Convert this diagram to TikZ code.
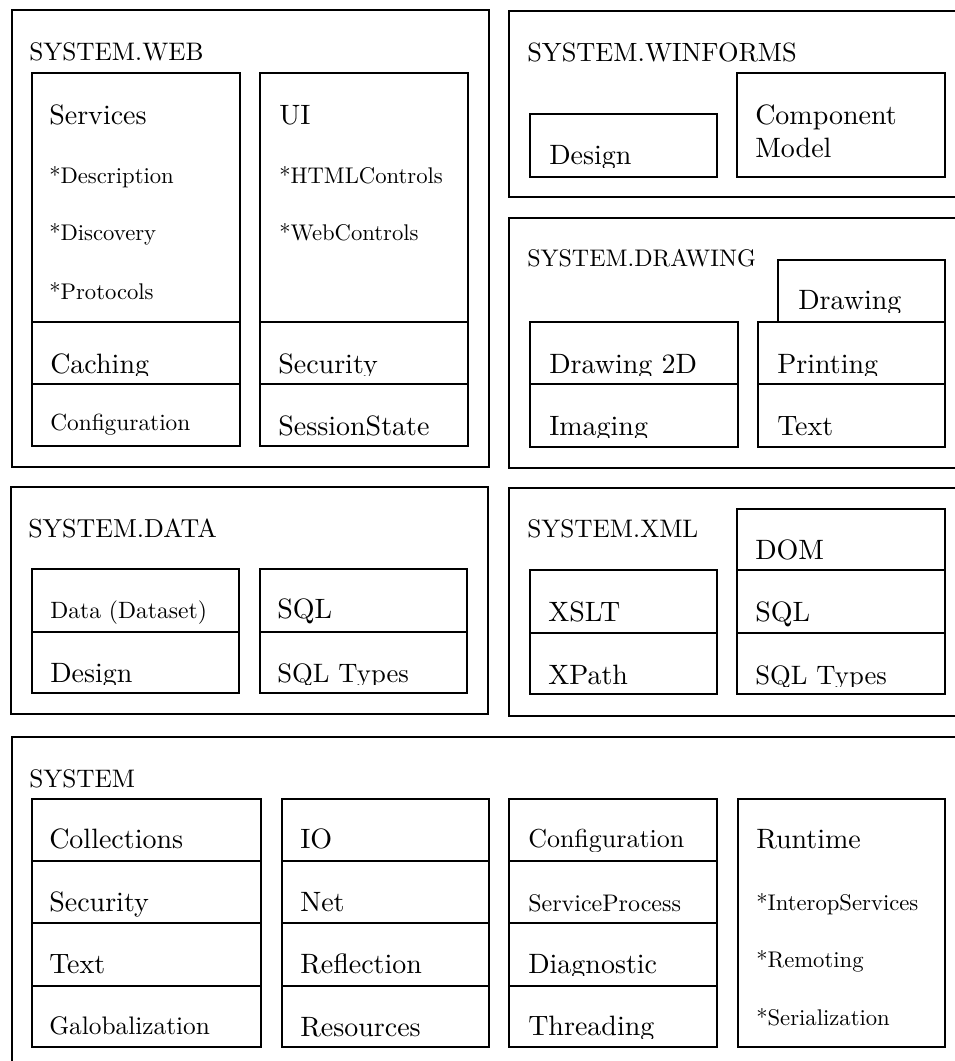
\documentclass[tikz,border=0pt]{standalone}
\usepackage{fontspec}
\setmainfont{lmroman10-regular.otf}
\tikzset{
  frame/.style={line width=1.2pt},
  lab/.style={font=\fontsize{#1}{#1}\selectfont, inner sep=0pt, anchor=base west},
}
% label whose lower part is cut off at a given height
\newcommand\cutlabel[6]{% name, x, baseline, cut-y, size, text
  \begin{scope}
    \clip (#2-10,#4-60) rectangle (#2+300,#4);
    \node[lab=#5] (#1) at (#2,#3) {#6};
  \end{scope}}
\begin{document}
\begin{tikzpicture}[x=0.75pt,y=-0.75pt]
\useasboundingbox (0,0) rectangle (955,1061);

% ---------------- SYSTEM.WEB ----------------
\draw[frame] (12,10) rectangle (489,467);
\node[lab=19] (webT) at (29,60) {SYSTEM.WEB};
\draw[frame] (32,73) rectangle (240,446) (32,322) -- (240,322) (32,384) -- (240,384);
\node[lab=21] (services) at (49,124) {Services};
\node[lab=17] (descr) at (49,183) {*Description};
\node[lab=17] (disco) at (49,240) {*Discovery};
\node[lab=17] (proto) at (49,299) {*Protocols};
\cutlabel{caching}{50}{373}{375}{21}{Caching}
\node[lab=17.5] (webconf) at (50,430) {Configuration};
\draw[frame] (260,73) rectangle (468,446) (260,322) -- (468,322) (260,384) -- (468,384);
\node[lab=21] (ui) at (279,124) {UI};
\node[lab=17] (html) at (279,183) {*HTMLControls};
\node[lab=17] (webctl) at (279,240) {*WebControls};
\cutlabel{websec}{278}{373}{375}{21}{Security}
\node[lab=21] (session) at (278,435) {SessionState};

% ---------------- SYSTEM.WINFORMS ----------------
\draw[frame] (960,11) -- (509,11) -- (509,197) -- (960,197);
\node[lab=19.8] (winT) at (527,61) {SYSTEM.WINFORMS};
\draw[frame] (530,114) rectangle (717,177);
\cutlabel{windesign}{549}{164}{167}{21}{Design}
\draw[frame] (737,73) rectangle (945,177);
\node[lab=21] (comp) at (755,124) {Component};
\node[lab=21] (model) at (755,157) {Model};

% ---------------- SYSTEM.DRAWING ----------------
\draw[frame] (960,218) -- (509,218) -- (509,468) -- (960,468);
\node[lab=18] (drawT) at (527,266) {SYSTEM.DRAWING};
\draw[frame] (778,322) -- (778,260) -- (945,260) -- (945,322);
\cutlabel{drawing}{798}{309}{312}{21}{Drawing}
\draw[frame] (530,322) rectangle (738,447) (530,384) -- (738,384);
\cutlabel{draw2d}{549}{373}{375}{21}{Drawing 2D}
\cutlabel{imaging}{549}{435}{437}{21}{Imaging}
\draw[frame] (758,322) rectangle (945,447) (758,384) -- (945,384);
\cutlabel{printing}{777}{373}{375}{21}{Printing}
\node[lab=21] (drawtext) at (777,435) {Text};

% ---------------- SYSTEM.DATA ----------------
\draw[frame] (11,487) rectangle (488,714);
\node[lab=19.5] (dataT) at (28,537) {SYSTEM.DATA};
\draw[frame] (32,569) rectangle (239,693) (32,632) -- (239,632);
\node[lab=17.7] (dataset) at (50,618) {Data (Dataset)};
\cutlabel{datadesign}{50}{682}{684}{21}{Design}
\draw[frame] (260,569) rectangle (467,693) (260,632) -- (467,632);
\node[lab=21] (datasql) at (277,618) {SQL};
\cutlabel{datasqlt}{277}{682}{684}{20}{SQL Types}

% ---------------- SYSTEM.XML ----------------
\draw[frame] (960,488) -- (509,488) -- (509,716) -- (960,716);
\node[lab=19] (xmlT) at (527,537) {SYSTEM.XML};
\draw[frame] (530,570) rectangle (717,694) (530,633) -- (717,633);
\node[lab=21] (xslt) at (548,621) {XSLT};
\node[lab=21] (xpath) at (548,684) {XPath};
\draw[frame] (737,509) rectangle (945,694) (737,570) -- (945,570) (737,633) -- (945,633);
\node[lab=21] (dom) at (755,559) {DOM};
\node[lab=21] (xmlsql) at (755,621) {SQL};
\cutlabel{xmlsqlt}{755}{684}{686}{20}{SQL Types}

% ---------------- SYSTEM ----------------
\draw[frame] (12,1065) -- (12,737) -- (960,737);
\node[lab=19] (sysT) at (29,787) {SYSTEM};
\foreach \xa/\xb in {32/261, 282/489, 509/717}
  \draw[frame] (\xa,799) rectangle (\xb,1047)
    (\xa,861) -- (\xb,861) (\xa,923) -- (\xb,923) (\xa,986) -- (\xb,986);
\node[lab=21] (coll) at (49,848) {Collections};
\node[lab=21] (syssec) at (49,911) {Security};
\node[lab=21] (systext) at (49,973) {Text};
\node[lab=19] (glob) at (49,1034) {Galobalization};
\node[lab=21] (io) at (300,848) {IO};
\node[lab=21] (net) at (300,911) {Net};
\node[lab=21] (refl) at (300,973) {Reflection};
\node[lab=21] (res) at (300,1036) {Resources};
\cutlabel{sysconf}{528}{847}{851}{19.5}{Configuration}
\node[lab=18] (svcproc) at (528,911) {ServiceProcess};
\cutlabel{diag}{528}{973}{975}{21}{Diagnostic}
\cutlabel{thread}{528}{1035}{1038}{21}{Threading}
\draw[frame] (738,799) rectangle (945,1047);
\node[lab=21] (runtime) at (756,848) {Runtime};
\node[lab=17] (interop) at (756,910) {*InteropServices};
\node[lab=17] (remoting) at (756,967) {*Remoting};
\node[lab=17] (serial) at (756,1025) {*Serialization};
\end{tikzpicture}
\end{document}
